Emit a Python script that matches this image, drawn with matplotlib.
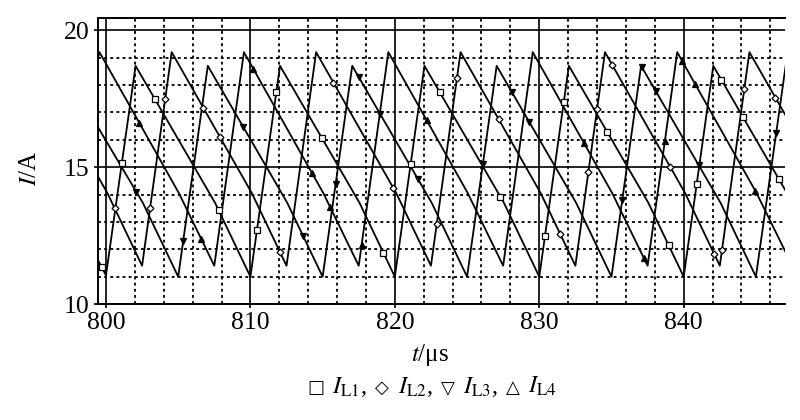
import numpy as np
import matplotlib
matplotlib.use('Agg')
import matplotlib.pyplot as plt
from matplotlib.ticker import MultipleLocator
from matplotlib.offsetbox import TextArea, HPacker, AnnotationBbox

plt.rcParams['font.family'] = ['Liberation Serif', 'DejaVu Serif']
plt.rcParams['mathtext.fontset'] = 'stix'

# ---- inductor currents of the 4 interleaved phases (vertices of each trace) ----
t_il1 = [799.4, 800.0, 802.05, 807.55, 810.0, 812.05, 817.55, 820.0, 822.05,
         827.55, 830.0, 832.05, 837.55, 840.0, 842.05, 847.1]
i_il1 = [11.65, 11.05, 18.7, 13.7, 11.0, 18.7, 13.7, 11.0, 18.7,
         13.7, 11.0, 18.7, 13.7, 11.0, 18.7, 14.1]

t_il2 = [799.4, 800.1, 802.5, 804.55, 810.1, 812.5, 814.55, 820.1, 822.5,
         824.55, 830.1, 832.5, 834.55, 840.1, 842.5, 844.55, 847.1]
i_il2 = [14.7, 14.05, 11.4, 19.2, 14.05, 11.4, 19.2, 14.05, 11.4,
         19.2, 14.05, 11.4, 19.2, 14.05, 11.4, 19.2, 16.85]

t_il3 = [799.4, 802.55, 805.0, 807.05, 812.55, 815.0, 817.05, 822.55, 825.0,
         827.05, 832.55, 835.0, 837.05, 842.55, 845.0, 847.1]
i_il3 = [16.5, 13.7, 11.0, 18.7, 13.7, 11.0, 18.7, 13.7, 11.0,
         18.7, 13.7, 11.0, 18.7, 13.7, 11.0, 18.85]

t_il4 = [799.4, 799.55, 805.05, 807.5, 809.55, 815.05, 817.5, 819.55, 825.05,
         827.5, 829.55, 835.05, 837.5, 839.55, 845.05, 847.1]
i_il4 = [18.85, 19.2, 14.05, 11.4, 19.2, 14.05, 11.4, 19.2, 14.05,
         11.4, 19.2, 14.05, 11.4, 19.2, 14.05, 11.85]

# times where the curve symbols sit on each trace
mk_il1 = [799.7, 801.1, 803.4, 807.8, 810.45, 811.8, 814.95, 819.2, 821.1, 823.1,
          827.3, 830.4, 831.7, 834.7, 838.95, 840.9, 842.6, 844.1, 846.6]
mk_il2 = [800.6, 803.05, 804.1, 806.75, 807.9, 812.05, 815.75, 819.9, 822.9, 824.3,
          827.2, 831.45, 833.4, 834.0, 835.05, 839.05, 842.1, 842.65, 844.2, 846.35]
mk_il3 = [802.1, 805.35, 809.5, 813.65, 815.9, 817.5, 819.0, 821.6, 826.1, 828.1,
          829.3, 835.75, 837.1, 838.05, 841.05, 846.4]
mk_il4 = [802.3, 806.6, 810.2, 814.25, 815.5, 817.7, 822.2, 833.1, 837.25, 838.7,
          839.9, 840.8, 844.95]

legend_symbols = ['□', '◇', '▽', '△']
legend_names = [r'$I_{\rm L1}$', r'$I_{\rm L2}$', r'$I_{\rm L3}$', r'$I_{\rm L4}$']

fig = plt.figure(figsize=(8, 4.2), dpi=100, facecolor='white')
ax = fig.add_axes([0.122, 0.276, 0.859, 0.680])

series = [
    (t_il1, i_il1, mk_il1, 's', 'white', 4.5),
    (t_il2, i_il2, mk_il2, 'D', 'white', 3.5),
    (t_il3, i_il3, mk_il3, 'v', 'black', 4.0),
    (t_il4, i_il4, mk_il4, '^', 'black', 4.0),
]
for t, cur, mk, m, fc, ms in series:
    ax.plot(t, cur, color='black', lw=1.3, zorder=3)
    ax.plot(mk, np.interp(mk, t, cur), ls='none', marker=m, ms=ms,
            mfc=fc, mec='black', mew=0.9, zorder=4)

ax.set_xlim(799.42, 847.0)
ax.set_ylim(10, 20.43)
ax.xaxis.set_major_locator(MultipleLocator(10))
ax.xaxis.set_minor_locator(MultipleLocator(2))
ax.yaxis.set_major_locator(MultipleLocator(5))
ax.yaxis.set_minor_locator(MultipleLocator(1))

ax.grid(which='major', color='black', lw=1.2, ls='-', zorder=1)
ax.grid(which='minor', color='black', lw=1.3, ls=(0, (1.6, 1.8)), zorder=1)

ax.spines['right'].set_visible(False)
for side in ('left', 'bottom', 'top'):
    ax.spines[side].set_linewidth(1.4)

ax.tick_params(which='major', direction='out', length=3, width=1.2,
               labelsize=18.5, pad=3)
ax.tick_params(which='minor', length=0)

fig.text(30 / 800, 1 - 168 / 420, r'$I$/A', rotation=90,
         ha='center', va='center', fontsize=18)
fig.text(430 / 800, 1 - 355 / 420, r'$t$/μs',
         ha='center', va='center', fontsize=18)

# legend line under the axis title: symbol glyphs from DejaVu, names in serif
parts = []
for k, (sym, name) in enumerate(zip(legend_symbols, legend_names)):
    parts.append(TextArea(sym, textprops=dict(family='DejaVu Sans', fontsize=13,
                                              color='black')))
    tail = name + (',' if k < len(legend_names) - 1 else '')
    parts.append(TextArea(tail, textprops=dict(fontsize=17.5, color='black')))
row = HPacker(children=parts, align='baseline', pad=0, sep=6)
ab = AnnotationBbox(row, (432 / 800, 1 - 387 / 420), xycoords='figure fraction',
                    frameon=False, box_alignment=(0.5, 0.5))
fig.add_artist(ab)

fig.savefig('out.png', dpi=100, facecolor='white')
